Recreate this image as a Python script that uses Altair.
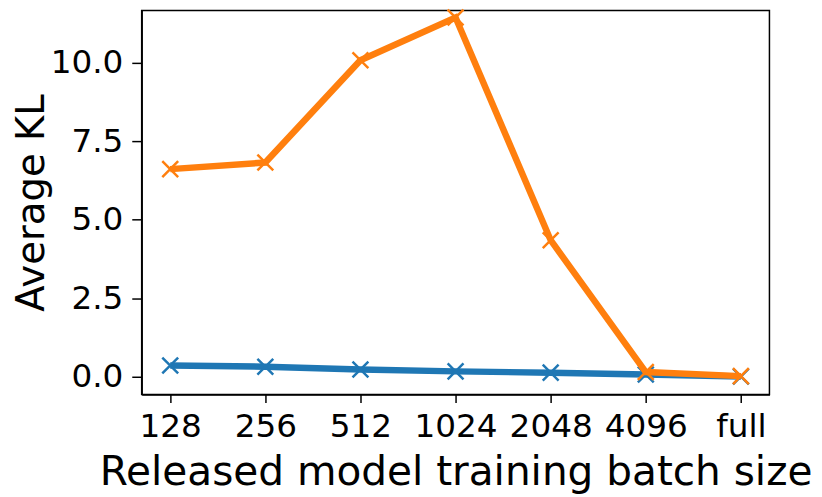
import altair as alt
import pandas as pd

batches = ["128", "256", "512", "1024", "2048", "4096", "full"]
blue_vals = [0.37, 0.33, 0.24, 0.18, 0.14, 0.08, 0.02]
orange_vals = [6.61, 6.82, 10.07, 11.43, 4.35, 0.16, 0.03]

df_blue = pd.DataFrame({"batch": batches, "kl": blue_vals, "series": "blue"})
df_orange = pd.DataFrame({"batch": batches, "kl": orange_vals, "series": "orange"})

FONT = "DejaVu Sans"
x_path = "M -1 -1 L 1 1 M -1 1 L 1 -1"

xenc = alt.X(
    "batch:N",
    sort=batches,
    scale=alt.Scale(type="point", padding=0.3),
    axis=alt.Axis(
        title="Released model training batch size",
        labelAngle=0,
        labelFontSize=33,
        titleFontSize=41,
        labelFont=FONT,
        titleFont=FONT,
        titleFontWeight="normal",
        labelColor="black",
        titleColor="black",
        tickSize=8,
        tickWidth=1.5,
        tickColor="black",
        domainColor="black",
        domainWidth=1.5,
        labelPadding=8,
        titlePadding=10,
        grid=False,
    ),
)
yenc = alt.Y(
    "kl:Q",
    scale=alt.Scale(domain=[-0.557, 11.655], nice=False, zero=False),
    axis=alt.Axis(
        title="Average KL",
        values=[0, 2.5, 5, 7.5, 10],
        format=".1f",
        labelFontSize=33,
        titleFontSize=39,
        labelFont=FONT,
        titleFont=FONT,
        titleFontWeight="normal",
        labelColor="black",
        titleColor="black",
        tickSize=10,
        tickWidth=1.5,
        tickColor="black",
        domainColor="black",
        domainWidth=1.5,
        labelPadding=9,
        titlePadding=-1,
        grid=False,
    ),
)


def series_layers(df, color):
    base = alt.Chart(df).encode(x=xenc, y=yenc)
    line = base.mark_line(color=color, strokeWidth=6.5)
    pts = base.mark_point(shape=x_path, size=256, color=color, strokeWidth=2.5, filled=False, opacity=1)
    return [line, pts]


chart = alt.layer(
    *series_layers(df_blue, "#1f77b4"),
    *series_layers(df_orange, "#ff7f0e"),
).properties(
    width=634,
    height=388,
    autosize=alt.AutoSizeParams(type="none"),
    padding={"left": 135, "top": 0, "right": 45, "bottom": 101},
    background="white",
).configure_view(
    stroke="black", strokeWidth=1.5
)

chart.save("out.html", embed_options={"renderer": "svg", "actions": False})
